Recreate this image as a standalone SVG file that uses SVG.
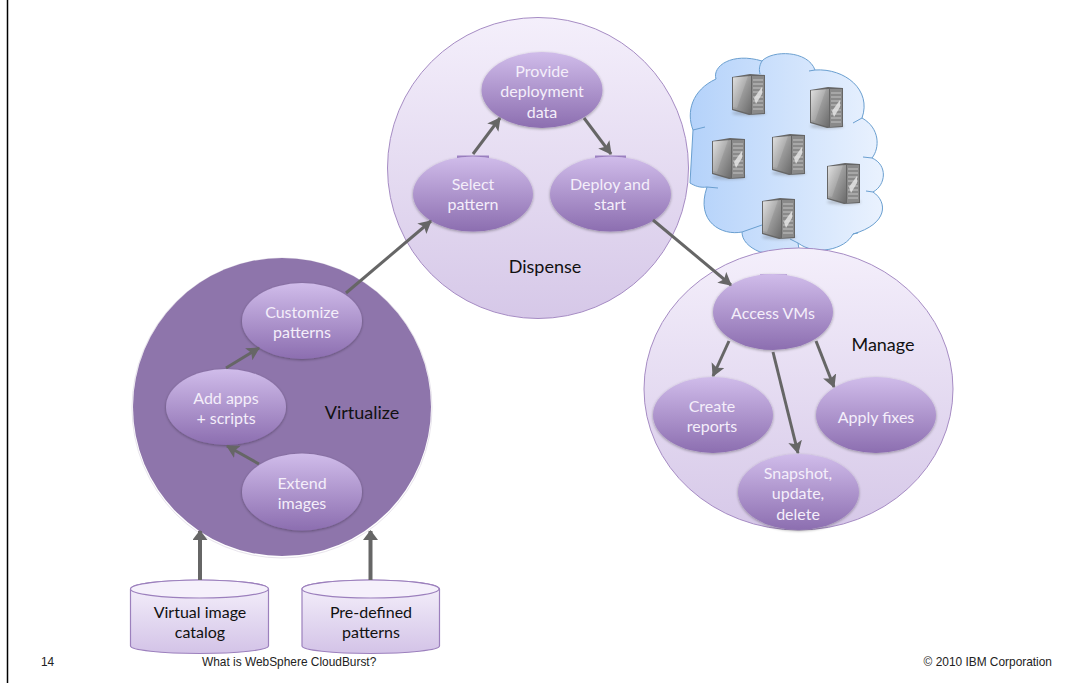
<svg xmlns="http://www.w3.org/2000/svg" xmlns:xlink="http://www.w3.org/1999/xlink" width="1073" height="683" viewBox="0 0 1073 683">
<style>
.t{font-family:"Lato","Open Sans","Liberation Sans",sans-serif;font-size:16px;text-anchor:middle}
.w{fill:#f4eefa}
.k{fill:#111}
.lab{font-size:18px}
.f{font-family:"Liberation Sans",Arial,sans-serif;font-size:11.9px;fill:#222}
.n{fill:url(#nodeG);filter:url(#soft)}
.big{stroke:#a68cc4;stroke-width:1;fill:url(#bigG)}
.cyl{fill:url(#cylG);stroke:#9c80bd;stroke-width:1.200}
.a{fill:none;stroke:#666;stroke-width:3;marker-end:url(#ah)}
.at{fill:none;stroke:#666;stroke-width:4;marker-end:url(#ahT)}
.mark{stroke:#a084c6;stroke-width:3}
</style>
<defs>
<linearGradient id="nodeG" x1="0" y1="0" x2="0" y2="1"><stop offset="0" stop-color="#d0bcea"/><stop offset="1" stop-color="#8c6eb0"/></linearGradient>
<linearGradient id="bigG" x1="0" y1="0" x2="0" y2="1"><stop offset="0" stop-color="#f4effb"/><stop offset="1" stop-color="#d6c8e8"/></linearGradient>
<linearGradient id="cylG" x1="0" y1="0" x2="0" y2="1"><stop offset="0" stop-color="#f6f2fc"/><stop offset="1" stop-color="#d3c3e7"/></linearGradient>
<linearGradient id="cloudG" x1="0" y1="0" x2="1" y2="0"><stop offset="0" stop-color="#b4d2fa"/><stop offset="1" stop-color="#eaf2fe"/></linearGradient>
<linearGradient id="srvF" x1="0" y1="0" x2="1" y2="1"><stop offset="0" stop-color="#dcdcdc"/><stop offset="0.5" stop-color="#9a9a9a"/><stop offset="1" stop-color="#6a6a6a"/></linearGradient>
<filter id="soft" x="-10%" y="-10%" width="120%" height="125%"><feGaussianBlur in="SourceAlpha" stdDeviation="1.500"/><feOffset dy="1"/><feComponentTransfer><feFuncA type="linear" slope="0.35"/></feComponentTransfer><feMerge><feMergeNode/><feMergeNode in="SourceGraphic"/></feMerge></filter>
<filter id="blur" x="-20%" y="-60%" width="140%" height="220%"><feGaussianBlur stdDeviation="1.500"/></filter>
<marker id="ah" markerUnits="userSpaceOnUse" markerWidth="16" markerHeight="16" refX="12" refY="7" orient="auto"><path d="M0 0L13 7L0 14L3 7Z" fill="#666"/></marker>
<marker id="ahT" markerUnits="userSpaceOnUse" markerWidth="16" markerHeight="16" refX="9" refY="7.500" orient="auto"><path d="M0 0L10 7.500L0 15Z" fill="#666"/></marker>
<g id="srv">
<ellipse cx="17" cy="39" rx="17" ry="2.500" fill="#555" opacity=".3" filter="url(#blur)"/>
<path d="M0 3L18 0L33 1L33 40L17 41L0 36Z" fill="#666"/>
<path d="M1 3.500L19 2L19 40L1 35Z" fill="url(#srvF)"/>
<path d="M1 3.500L16 2L5 34L1 33Z" fill="#fff" opacity=".14"/>
<path d="M20 2L32 2L32 39L20 40Z" fill="#8a8a8a"/>
<path d="M21 6H31M21 10H31M21 14H31M21 18H31M21 23H31M21 27H31M21 31H31M21 35H31" stroke="#c4c4c4" stroke-width="1"/>
<path d="M22 24L30 13V20L24 30Z" fill="#e4e4e4" opacity=".85"/>
</g>
</defs>
<rect width="1073" height="683" fill="#fff"/>
<path d="M7.500 0V683" stroke="#000" stroke-width="1.500"/>

<g id="cloud">
<path d="M693 130C686 112 692 90 716 79C712 66 732 52 762 61C772 50 808 50 815 70C845 68 872 90 862 118C880 128 880 148 872 158C888 165 886 185 873 192C888 202 888 224 853 234C845 250 815 256 798 243L800 255L760 252C748 247 742 240 742 232C722 236 695 222 707 187C700 188 695 186 690 183Z" fill="url(#cloudG)" stroke="#6a9fd0" stroke-width="1"/>
<path d="M762 61C759 66 759 70 760 74M815 70L809 71M862 118L853 123M872 158L863 157M873 192L866 191M858 233L853 234M798 243L790 239M742 232L762 225M707 187L718 188M693 130L705 127" fill="none" stroke="#6a9fd0" stroke-width="1"/>
<use xlink:href="#srv" href="#srv" x="732" y="74"/>
<use xlink:href="#srv" href="#srv" x="810" y="87"/>
<use xlink:href="#srv" href="#srv" x="712" y="138"/>
<use xlink:href="#srv" href="#srv" x="772" y="134"/>
<use xlink:href="#srv" href="#srv" x="827" y="163"/>
<use xlink:href="#srv" href="#srv" x="762" y="198"/>
</g>

<g id="dispense"><circle class="big" cx="538" cy="168" r="150.500"/><text class="t k lab" x="545" y="273">Dispense</text></g>
<g id="manage"><ellipse class="big" cx="798.500" cy="389" rx="154.500" ry="141"/><text class="t k lab" x="883" y="351">Manage</text></g>
<g id="virtualize"><circle cx="282" cy="408" r="150" fill="#fff" stroke="#e8e4ec" stroke-width="1"/><circle cx="282" cy="407" r="149" fill="#8e75ab"/><text class="t k lab" x="362" y="419">Virtualize</text></g>

<g id="catalog"><path class="cyl" d="M130.500 589C130.500 584 161 580 199.500 580S268.500 584 268.500 589V646C268.500 650 238 653.500 199.500 653.500S130.500 650 130.500 646Z"/><ellipse cx="199.500" cy="589" rx="69" ry="9" fill="#f5f0fb" stroke="#9c80bd" stroke-width="1.200"/><text class="t k" x="200" y="618">Virtual image</text><text class="t k" x="200" y="638">catalog</text></g>
<g id="predefined"><path class="cyl" d="M302 589C302 584 332 580 370.500 580S439.500 584 439.500 589V646C439.500 650 409 653.500 370.500 653.500S302 650 302 646Z"/><ellipse cx="370.500" cy="589" rx="68.500" ry="9" fill="#f5f0fb" stroke="#9c80bd" stroke-width="1.200"/><text class="t k" x="371" y="618">Pre-defined</text><text class="t k" x="371" y="638">patterns</text></g>

<g id="select"><path class="mark" d="M457 157H489"/><ellipse class="n" cx="473" cy="194" rx="60" ry="37.500"/><text class="t w" x="473" y="190">Select</text><text class="t w" x="473" y="210">pattern</text></g>
<g id="deploy"><path class="mark" d="M595 157H626"/><ellipse class="n" cx="610.500" cy="194" rx="60.500" ry="37.500"/><text class="t w" x="610" y="190">Deploy and</text><text class="t w" x="610" y="210">start</text></g>
<g id="provide"><ellipse class="n" cx="542" cy="90" rx="60.500" ry="38"/><text class="t w" x="542" y="77">Provide</text><text class="t w" x="542" y="97">deployment</text><text class="t w" x="542" y="118">data</text></g>
<g id="access"><path d="M760 275H787" stroke="#c4aee2" stroke-width="2"/><ellipse class="n" cx="773" cy="312" rx="60" ry="38"/><text class="t w" x="773" y="319">Access VMs</text></g>
<g id="create"><ellipse class="n" cx="713" cy="415" rx="60" ry="38"/><text class="t w" x="712" y="412">Create</text><text class="t w" x="712" y="432">reports</text></g>
<g id="apply"><ellipse class="n" cx="876" cy="415" rx="60" ry="38"/><text class="t w" x="876" y="423">Apply fixes</text></g>
<g id="snapshot"><ellipse class="n" cx="798.500" cy="492" rx="60.500" ry="38"/><text class="t w" x="798" y="479">Snapshot,</text><text class="t w" x="798" y="499">update,</text><text class="t w" x="798" y="520">delete</text></g>
<g id="customize"><ellipse class="n" cx="302" cy="321" rx="60" ry="38"/><text class="t w" x="302" y="318">Customize</text><text class="t w" x="302" y="338">patterns</text></g>
<g id="addapps"><ellipse class="n" cx="226" cy="407" rx="60" ry="38"/><text class="t w" x="226" y="404">Add apps</text><text class="t w" x="226" y="424">+ scripts</text></g>
<g id="extend"><ellipse class="n" cx="302" cy="492" rx="60" ry="38.500"/><text class="t w" x="302" y="489">Extend</text><text class="t w" x="302" y="509">images</text></g>

<g id="connectors">
<path class="a" d="M473 154L500 118"/>
<path class="a" d="M584 118L611 154"/>
<path class="a" d="M346 293L431 221"/>
<path class="a" d="M653 220L731 285"/>
<path class="a" d="M729 341L713 376"/>
<path class="a" d="M773 352L798 453"/>
<path class="a" d="M816 341L834 387"/>
<path class="a" d="M226 368L259 348"/>
<path class="a" d="M259 464L227 446"/>
<path class="at" d="M200 580V531"/>
<path class="at" d="M370.500 580V531"/>
</g>

<g id="footer">
<text class="f" x="41" y="666">14</text>
<text class="f" x="202" y="666">What is WebSphere CloudBurst?</text>
<text class="f" x="1052" y="666" text-anchor="end">© 2010 IBM Corporation</text>
</g>
</svg>
